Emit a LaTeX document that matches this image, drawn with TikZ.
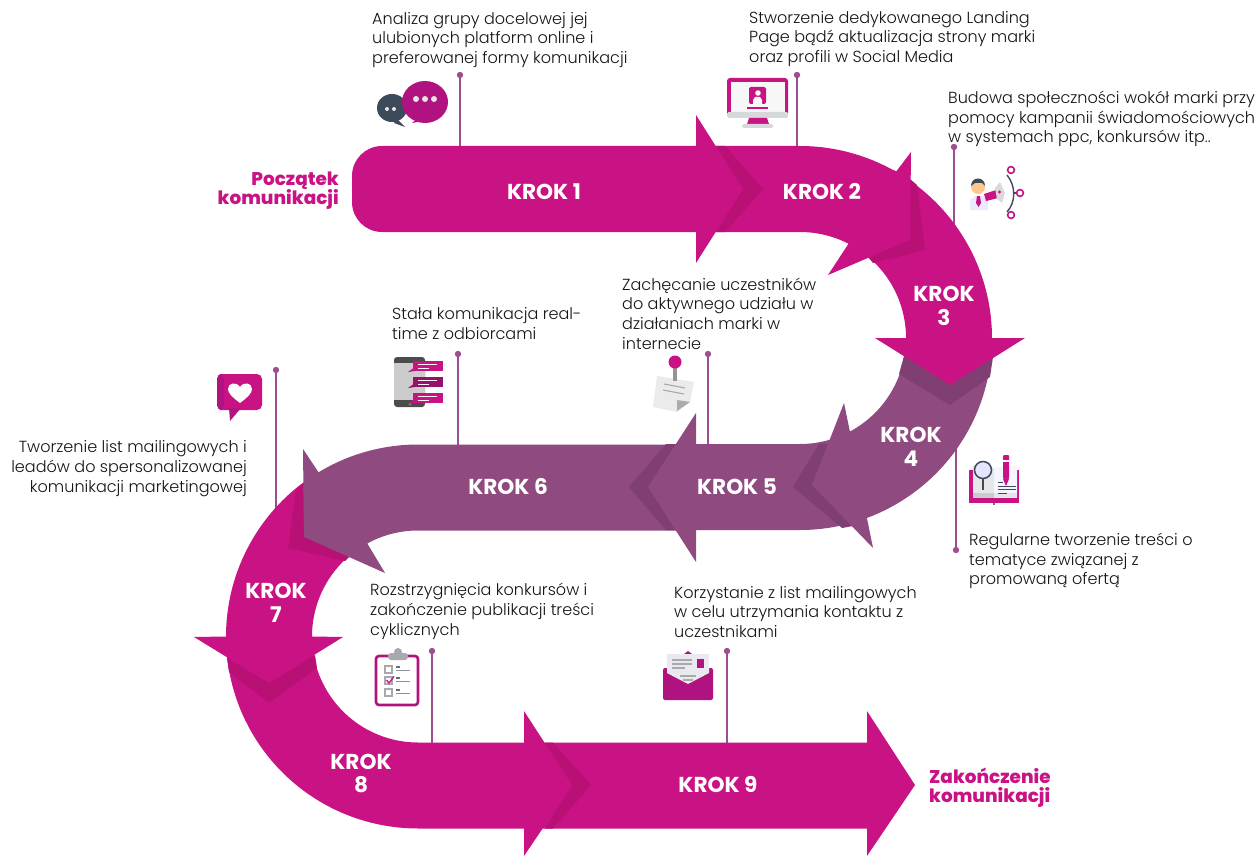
\documentclass[tikz,border=0pt]{standalone}
\usepackage{fontspec}
\setmainfont{Poppins}[UprightFont=* Light,BoldFont=* Bold]
\newfontfamily\heavyface{Poppins}[UprightFont=* ExtraBold]
\definecolor{pk}{HTML}{C91284}
\definecolor{pkd}{HTML}{B81074}
\definecolor{pu}{HTML}{8F4A80}
\definecolor{pud}{HTML}{7F3F72}
\definecolor{stemc}{HTML}{9C4F8E}
\definecolor{icp}{HTML}{B0137F}
\definecolor{icd}{HTML}{3C4A5A}
\definecolor{icg}{HTML}{A9A9AD}
\newcommand{\ringarc}[5]{-- plot[domain=#4:#5,samples=50]({#1+#3*cos(\x)},{#2-#3*sin(\x)})}
\tikzset{
  x=1pt,y=-1pt,
  pinkshape/.style={fill=pk,draw=none},
  purpleshape/.style={fill=pu,draw=none},
  pinkshadow/.style={fill=pkd,draw=none},
  purpleshadow/.style={fill=pud,draw=none},
  stemline/.style={draw=stemc,line width=2.4pt},
  stemdot/.style={fill=stemc,draw=none},
  body/.style={inner sep=0pt,text=black!92,font=\fontsize{16.05}{19.7}\selectfont},
  bodyl/.style={body,anchor=west,align=left},
  bodyr/.style={body,anchor=east,align=right},
  krok/.style={inner sep=0pt,text=white,align=center,font=\fontsize{21.6}{23.6}\selectfont\bfseries},
  ends/.style={inner sep=0pt,text=pk,font=\fontsize{18.4}{19.6}\selectfont\heavyface},
}
\begin{document}
\begin{tikzpicture}
\useasboundingbox (0,0) rectangle (1256,856);
% ---- stems
\foreach \n/\xx/\ya/\yb in {a/460/75/150,b/797/75/150,c/954/147/226,d/708/354/448,e/458/354/448,f/956/550/448,g/276/370/511,h/432/651/746,i/727/651/746}{
  \coordinate (\n t) at (\xx,\ya);
  \coordinate (\n b) at (\xx,\yb);
  \draw[stemline] (\n t) -- (\n b);
  \fill[stemdot] (\n t) circle[radius=3.2pt];
}
% ---- arrow 9
\path[pinkshape] (530,742.5) -- (867,742.5) -- (867,711) -- (915,785) -- (867,856) -- (867,828.5) -- (530,828.5) -- cycle;
\path[pinkshadow] (545,742.5) -- (553,742.5) -- (591,785) -- (553,828.5) -- (545,828.5) -- (572,785) -- cycle;
% ---- arrow 8
\path[pinkshape] (226,636.5) \ringarc{418}{636.5}{192}{180}{270} -- (524,828.5) -- (524,856) -- (572,785) -- (524,711) -- (524,742.5) -- (418,742.5) \ringarc{418}{636.5}{106}{270}{180} -- cycle;
\path[pinkshadow] (227,658) -- (269,683) -- (315,655) -- (317,668) -- (269,703) -- (229,672) -- cycle;
% ---- arrow 7
\path[pinkshape] (316,473) \ringarc{418}{636.5}{192}{122}{180} -- (194,637) -- (269,683) -- (343,637) -- (312,636.5) \ringarc{418}{636.5}{106}{180}{118} -- cycle;
\path[pinkshadow] (303,484) -- (296,490) -- (288,548) -- (345,561) -- (352,554) -- (304,537) -- cycle;
% ---- arrow 6
\path[purpleshape] (690,444.5) -- (418,444.5) \ringarc{418}{636.5}{192}{90}{121.2} -- (303,449) -- (304,537) -- (385,573) -- (367,543) \ringarc{418}{636.5}{106}{118.5}{90} -- (690,530.5) -- cycle;
\path[purpleshadow] (676,444) -- (666,444) -- (629,487) -- (666,530) -- (676,530) -- (648,487) -- cycle;
% ---- arrow 5
\path[purpleshape] (800,444) -- (696,444) -- (696,413) -- (648,487) -- (696,562) -- (696,530) -- (800,530) \ringarc{800}{338}{192}{-90}{-72} \ringarc{800}{338}{106}{-72}{-90} -- cycle;
\path[purpleshadow] (828,444) -- (819,444) -- (793,487) -- (842,528) -- (853,526) -- (812,485) -- cycle;
% ---- arrow 4
\path[purpleshape] (992,338) \ringarc{800}{338}{192}{0}{-69.6} -- (873,548) -- (812,485) -- (844,403) -- (850,432) \ringarc{800}{338}{106}{-62}{0} -- cycle;
\path[purpleshadow] (904,356) -- (950,385) -- (993,357) -- (990,377) -- (950,405) -- (899,374) -- cycle;
% ---- arrow 3
\path[pinkshape] (894,170) \ringarc{800}{338}{192}{60}{0} -- (1025,338) -- (950,385) -- (875,338) -- (906,338) \ringarc{800}{338}{106}{0}{62} -- cycle;
\path[pinkshadow] (910,179) -- (917,185) -- (925,250) -- (873,263) -- (868,257) -- (910,240) -- cycle;
% ---- arrow 2
\path[pinkshape] (700,146) -- (800,146) \ringarc{800}{338}{192}{90}{60} -- (911,152) -- (910,240) -- (828,275) -- (849,243) \ringarc{800}{338}{106}{62.7}{90} -- (700,232) -- cycle;
\path[pinkshadow] (716,146) -- (725,146) -- (763,189) -- (725,232) -- (716,232) -- (743,189) -- cycle;
% ---- arrow 1
\path[pinkshape] (696,146) -- (382,146) .. controls (365.4,146) and (352,159.4) .. (352,176) -- (352,202) .. controls (352,218.6) and (365.4,232) .. (382,232) -- (696,232) -- (696,263) -- (743,189) -- (696,115) -- cycle;
% ---- step labels
\node[krok] (k1) at (544,192) {KROK 1};
\node[krok] (k2) at (822,192) {KROK 2};
\node[krok] (k3) at (944,306) {KROK\\3};
\node[krok] (k4) at (911,447) {KROK\\4};
\node[krok] (k5) at (737,487) {KROK 5};
\node[krok] (k6) at (508,487) {KROK 6};
\node[krok] (k7) at (276,603) {KROK\\7};
\node[krok] (k8) at (361,773.5) {KROK\\8};
\node[krok] (k9) at (718,785) {KROK 9};
\node[ends,anchor=east,align=right] (start) at (339,190.5) {Początek\\komunikacji};
\node[ends,anchor=west,align=left] (end) at (929,787.5) {Zakończenie\\komunikacji};
% ---- texts
\node[bodyl] (t1) at (372,40) {Analiza grupy docelowej jej\\ulubionych platform online i\\preferowanej formy komunikacji};
\node[bodyl] (t2) at (749,39) {Stworzenie dedykowanego Landing\\Page bądź aktualizacja strony marki\\oraz profili w Social Media};
\node[bodyl] (t3) at (948,119) {Budowa społeczności wokół marki przy\\pomocy kampanii świadomościowych\\w systemach ppc, konkursów itp..};
\node[bodyl] (t4) at (622,313.5) {Zachęcanie uczestników\\do aktywnego udziału w\\działaniach marki w\\internecie};
\node[bodyl] (t5) at (392,323.5) {Stała komunikacja real-\\time z odbiorcami};
\node[bodyr] (t6) at (247,468.5) {Tworzenie list mailingowych i\\leadów do spersonalizowanej\\komunikacji marketingowej};
\node[bodyl] (t7) at (969,561) {Regularne tworzenie treści o\\tematyce związanej z\\promowaną ofertą};
\node[bodyl] (t8) at (370,611.5) {Rozstrzygnięcia konkursów i\\zakończenie publikacji treści\\cyklicznych};
\node[bodyl] (t9) at (674,612) {Korzystanie z list mailingowych\\w celu utrzymania kontaktu z\\uczestnikami};
% ---- icon: chat bubbles
\fill[icd] (392,108) ellipse[x radius=15,y radius=14];
\fill[icd] (396,118) -- (405,127) -- (394,123) -- cycle;
\fill[white!90!black] (387,109) circle[radius=2] (394,109) circle[radius=2];
\fill[icp] (425,102) ellipse[x radius=23,y radius=21];
\fill[icp] (418,118) -- (412,123) -- (428,120) -- cycle;
\fill[white!90!black] (416,99) circle[radius=3] (425,99) circle[radius=3] (434,99) circle[radius=3];
% ---- icon: monitor
\fill[pk,rounded corners=3pt] (727,78) rectangle (788,116);
\fill[white!97!black] (731,82) rectangle (785,112);
\fill[pk,rounded corners=2pt] (749,87) rectangle (766,104);
\fill[white!97!black] (758,93) circle[radius=2.8];
\fill[white!97!black] (753,104) -- (753,100) -- (755,97) -- (760,97) -- (762,100) -- (762,104) -- cycle;
\fill[pk] (747,107) rectangle (768,109);
\fill[black!5!cyan!5!gray!35,rounded corners=1.5pt] (727,112) rectangle (788,118);
\fill[pk] (749,118) -- (767,118) -- (769,124) -- (747,124) -- cycle;
\fill[black!5!cyan!5!gray!35,rounded corners=1.5pt] (742,124) rectangle (773,128);
% ---- icon: megaphone man
\fill[white!92!blue] (970,210) -- (970,200) -- (975,196) -- (983,196) -- (988,200) -- (988,210) -- cycle;
\fill[pk] (977,196) -- (980,196) -- (981,203) -- (978.5,207) -- (976,203) -- cycle;
\fill[orange!45!white] (978,187) circle[radius=7];
\fill[icd] (971,186) .. controls (971,176) and (985,176) .. (985,186) -- (982,183) -- (975,183) -- cycle;
\fill[pk] (984,194) -- (996,190) -- (998,198) -- (986,201) -- cycle;
\fill[gray!30] (995,188) -- (1000,182) -- (1005,193) -- (1002,203) -- (997,199) -- cycle;
\fill[pk] (999.5,192) circle[radius=1.6];
\draw[icd,line width=1.4pt] (1007,175) .. controls (1016,186) and (1016,202) .. (1007,212);
\draw[icd,line width=1.4pt] (1013.5,193) -- (1017,193);
\draw[pk,line width=1.6pt,fill=white] (1011,170) circle[radius=3.4pt] (1020,193) circle[radius=3.4pt] (1011,215) circle[radius=3.4pt];
% ---- icon: phone
\fill[black!70,rounded corners=3pt] (394,357) rectangle (425,407);
\fill[black!20] (394,363) rectangle (425,400);
\fill[black!45] (410,404) circle[radius=1.6];
\foreach \yy/\cc in {361/pk,377/icp!85!black,393/pk}{
  \fill[\cc] (413,\yy) rectangle (443,\yy+10);
  \fill[\cc] (415,\yy+6) -- (408,\yy+11) -- (415,\yy+10) -- cycle;
  \draw[white!85!pink,line width=0.9pt] (418,\yy+3) -- (437,\yy+3) (418,\yy+7) -- (429,\yy+7);
}
% ---- icon: pinned note
\fill[black!8] (657,376) -- (694,382) -- (690,402) -- (677,412) -- (653,407) -- cycle;
\fill[black!33] (677,400) -- (690,402) -- (677,411) -- cycle;
\draw[icg,line width=1.1pt] (664,384) -- (685,388) (663,390) -- (684,394);
\draw[black!42,line width=4pt] (675,365) -- (675,381);
\fill[pk] (675,362) circle[radius=6.5];
% ---- icon: book
\fill[pk] (969,470) rectangle (1019,503);
\fill[icd!14!white] (973,465) -- (994,468) -- (994,498) -- (973,497) -- cycle;
\fill[white!96!blue] (994,468) -- (1017,465) -- (1017,497) -- (994,498) -- cycle;
\fill[icd!28!white] (973,493) rectangle (994,498);
\fill[icd!14!white] (994,493) rectangle (1017,498);
\fill[black!55] (993,503) rectangle (995,505);
\draw[icd,line width=1.5pt,fill=white!90!blue] (983,470) circle[radius=8.5];
\draw[icd,line width=2pt] (983,479) -- (983,490);
\fill[pk,rounded corners=1pt] (1003,455) rectangle (1009,479);
\fill[white] (1003,460) rectangle (1009,461.5);
\fill[pk] (1003,479) -- (1009,479) -- (1006,486) -- cycle;
\draw[icd,line width=0.9pt] (998,482) -- (1003,482) (998,486) -- (1016,486) (998,489.5) -- (1016,489.5) (998,493) -- (1007,493);
% ---- icon: clipboard
\draw[icp,line width=2.6pt,fill=white,rounded corners=3pt] (376,656) rectangle (418,705);
\fill[icg,rounded corners=3pt] (388,653) rectangle (408,660);
\fill[icg] (398,652) circle[radius=4];
\foreach \yy in {666,677,689}{
  \draw[icg,line width=1.1pt] (385,\yy) rectangle (392,\yy+7);
  \draw[icd!80,line width=1.1pt] (396,\yy+1) -- (400,\yy+1);
  \draw[icd!60,line width=1.1pt] (396,\yy+4.5) -- (410,\yy+4.5);
}
\draw[pk,line width=1.3pt] (386.5,680) -- (389,683) -- (394,676.5);
% ---- icon: envelope
\fill[icp,rounded corners=2pt] (663,668) rectangle (713,700);
\fill[icp] (688,651) -- (692,654) -- (684,654) -- cycle;
\fill[black!3!blue!3!white!94!black] (667,654) -- (709,654) -- (709,673) -- (688,684) -- (667,673) -- cycle;
\fill[icp] (697,659) rectangle (704,668);
\draw[icg,line width=1.1pt] (672,660) -- (692,660) (672,664) -- (692,664) (672,668) -- (685,668) (680,676) -- (696,676) (683,680) -- (693,680);
% ---- icon: heart bubble
\fill[pk,rounded corners=5pt] (217,374) rectangle (262,410);
\fill[icp,rounded corners=5pt] (217,374) rectangle (224,410);
\fill[icp!80!pk] (229,408) -- (230,421) -- (241,408) -- cycle;
\fill[white!97!pink] (240,403) .. controls (232,397) and (228,393) .. (228,389) .. controls (228,383) and (236,381) .. (240,387) .. controls (244,381) and (252,383) .. (252,389) .. controls (252,393) and (248,397) .. (240,403) -- cycle;
\end{tikzpicture}
\end{document}
